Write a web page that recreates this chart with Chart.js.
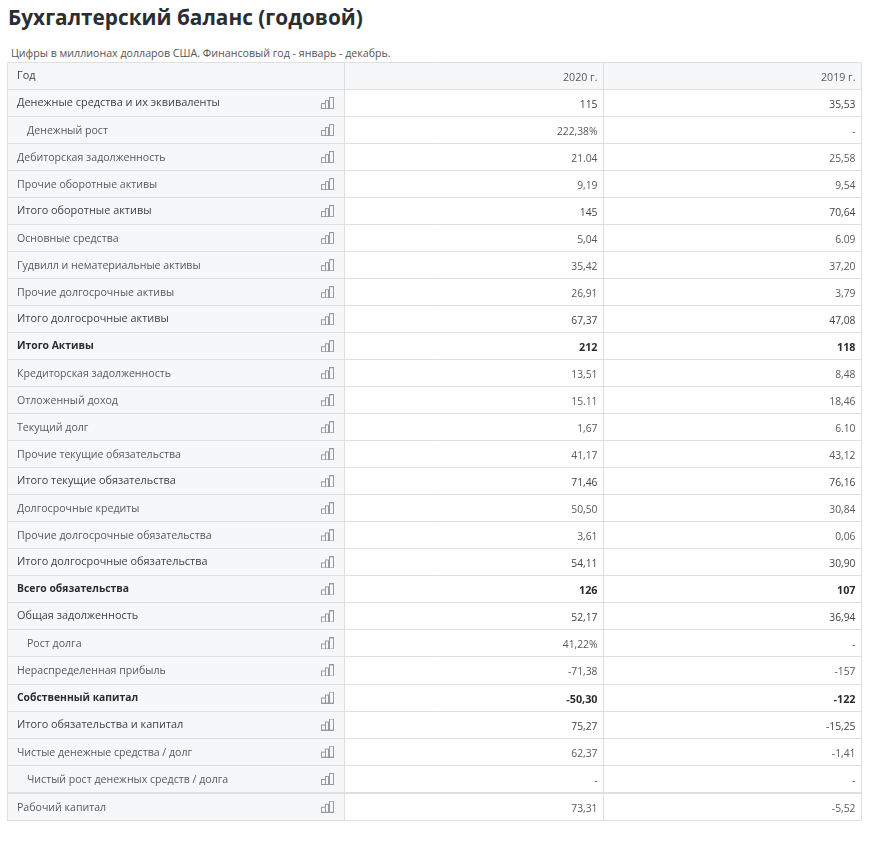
<!DOCTYPE html>
<html lang="ru">
  <head>
    <meta charset="UTF-8">
    <title>Бухгалтерский баланс (годовой)</title>
    <script src="https://cdn.jsdelivr.net/npm/chart.js@4/dist/chart.umd.min.js"></script>
    <style>
      html, body { margin: 0; padding: 0; background: #fff; overflow: hidden; font-family: "Open Sans", sans-serif; }
      #title { position: absolute; left: 8px; top: 3px; margin: 0; font-size: 20.8px; line-height: 28px; font-weight: 700; color: #2a2e33; white-space: nowrap; }
      #note { position: absolute; left: 11px; top: 45px; margin: 0; font-size: 10.65px; line-height: 16px; color: #555; white-space: nowrap; }
      #wrap { position: absolute; left: 0; top: 0; width: 882px; height: 844px; }
    </style>
  </head>
  <body>
    <h1 id="title">Бухгалтерский баланс (годовой)</h1>
    <p id="note">Цифры в миллионах долларов США. Финансовый год - январь - декабрь.</p>
    <div id="wrap"><canvas id="balance_chart" width="882" height="844"></canvas></div>
    <script>
      const headers = ["Год", "2020 г.", "2019 г."];
      const rowNames = [
        "Денежные средства и их эквиваленты", "Денежный рост", "Дебиторская задолженность",
        "Прочие оборотные активы", "Итого оборотные активы", "Основные средства",
        "Гудвилл и нематериальные активы", "Прочие долгосрочные активы", "Итого долгосрочные активы",
        "Итого Активы", "Кредиторская задолженность", "Отложенный доход", "Текущий долг",
        "Прочие текущие обязательства", "Итого текущие обязательства", "Долгосрочные кредиты",
        "Прочие долгосрочные обязательства", "Итого долгосрочные обязательства", "Всего обязательства",
        "Общая задолженность", "Рост долга", "Нераспределенная прибыль", "Собственный капитал",
        "Итого обязательства и капитал", "Чистые денежные средства / долг",
        "Чистый рост денежных средств / долга", "Рабочий капитал"
      ];
      const values2020 = [
        "115", "222,38%", "21.04", "9,19", "145", "5,04", "35,42", "26,91", "67,37", "212",
        "13,51", "15.11", "1,67", "41,17", "71,46", "50,50", "3,61", "54,11", "126", "52,17",
        "41,22%", "-71,38", "-50,30", "75,27", "62,37", "-", "73,31"
      ];
      const values2019 = [
        "35,53", "-", "25,58", "9,54", "70,64", "6.09", "37,20", "3,79", "47,08", "118",
        "8,48", "18,46", "6.10", "43,12", "76,16", "30,84", "0,06", "30,90", "107", "36,94",
        "-", "-157", "-122", "-15,25", "-1,41", "-", "-5,52"
      ];
      const boldRows = ["Итого Активы", "Всего обязательства", "Собственный капитал"];
      const strongRows = [
        "Денежные средства и их эквиваленты", "Итого оборотные активы", "Итого долгосрочные активы",
        "Итого текущие обязательства", "Итого долгосрочные обязательства", "Общая задолженность",
        "Итого обязательства и капитал"
      ];
      const indentRows = ["Денежный рост", "Рост долга", "Чистый рост денежных средств / долга"];

      // layout of the grid, x in px from the left table edge, y in rows
      // строки чуть больше 27px, последняя отделена двойной линией
      const colEdges = [0, 337, 596, 854];
      const rowCount = rowNames.length + 1;
      const thickEdge = rowCount - 1 + 0.03;
      const tableBottom = 28.051;
      const rowEdges = [];
      for (let i = 0; i < rowCount - 1; i++) rowEdges.push(i);
      rowEdges.push(thickEdge, tableBottom);
      const rowCenter = (r) => (rowEdges[r] + rowEdges[r + 1]) / 2;

      const labelCells = rowEdges.slice(0, -1).map((e, r) => ({ x: [colEdges[0], colEdges[1]], y: rowCenter(r) }));
      const headerCell = { x: [colEdges[1], colEdges[3]], y: rowCenter(0) };
      const iconPoints = rowNames.map((n, i) => ({ x: 320, y: rowCenter(i + 1) }));

      // маленькая иконка-гистограмма
      const icon = document.createElement('canvas');
      icon.width = 13;
      icon.height = 12;
      const ic = icon.getContext('2d');
      ic.strokeStyle = '#989a9c';
      ic.lineWidth = 1;
      ic.strokeRect(0.5, 6.5, 4, 5);
      ic.strokeRect(4.5, 3.5, 3, 8);
      ic.strokeRect(8.5, 0.5, 4, 11);

      const labelFont = (name) => {
        if (boldRows.includes(name)) return '700 10.35px "Open Sans"';
        if (strongRows.includes(name)) return '500 10.9px "Open Sans"';
        return '10.6px "Open Sans"';
      };
      const valueFont = (name) => {
        if (boldRows.includes(name)) return '700 10.8px "Open Sans"';
        return '10.3px "Open Sans"';
      };
      const rowColor = (name) => {
        if (boldRows.includes(name)) return '#2a2d30';
        if (strongRows.includes(name)) return '#3d4247';
        return '#555a5f';
      };
      const labelShift = (name) => (boldRows.includes(name) || strongRows.includes(name) ? 0 : 1);

      const tableText = {
        id: 'tableText',
        afterDatasetsDraw(chart) {
          const { ctx, scales: { x, y } } = chart;
          ctx.save();
          ctx.textBaseline = 'middle';
          const put = (text, px, r, align, shift) => {
            ctx.textAlign = align;
            ctx.fillText(text, px, Math.round(y.getPixelForValue(rowCenter(r))) + shift);
          };
          ctx.font = '500 10.9px "Open Sans"';
          ctx.fillStyle = '#3d4247';
          put(headers[0], x.getPixelForValue(9.5), 0, 'left', 0);
          ctx.font = '10.65px "Open Sans"';
          ctx.fillStyle = '#555a5f';
          put(headers[1], x.getPixelForValue(590), 0, 'right', 2);
          put(headers[2], x.getPixelForValue(848), 0, 'right', 2);
          rowNames.forEach((name, i) => {
            ctx.font = labelFont(name);
            ctx.fillStyle = rowColor(name);
            const indent = indentRows.includes(name) ? 10 : 0;
            put(name, x.getPixelForValue(9.5 + indent), i + 1, 'left', labelShift(name));
            ctx.font = valueFont(name);
            put(values2020[i], x.getPixelForValue(590), i + 1, 'right', 2);
            put(values2019[i], x.getPixelForValue(848), i + 1, 'right', 2);
          });
          ctx.restore();
        }
      };

      new Chart(document.getElementById('balance_chart').getContext('2d'), {
        data: {
          datasets: [
            {
              type: 'scatter',
              data: iconPoints,
              pointStyle: icon,
              showLine: false
            },
            {
              type: 'bar',
              data: labelCells.concat([headerCell]),
              backgroundColor: '#f6f7f9',
              borderWidth: 0,
              barThickness: 28
            }
          ]
        },
        options: {
          indexAxis: 'y',
          responsive: false,
          animation: false,
          events: [],
          layout: { padding: { left: 7.5, right: 20.5, top: 62.5, bottom: 23.5 } },
          plugins: { legend: { display: false }, tooltip: { enabled: false } },
          scales: {
            x: {
              type: 'linear',
              offset: false,
              min: colEdges[0],
              max: colEdges[3],
              afterBuildTicks: (s) => { s.ticks = colEdges.map((v) => ({ value: v })); },
              afterFit: (s) => { s.height = 0; },
              ticks: { display: false, autoSkip: false },
              border: { display: false },
              grid: { color: '#dedfe0', lineWidth: 1, drawTicks: false, offset: false, z: 1 }
            },
            y: {
              type: 'linear',
              reverse: true,
              offset: false,
              min: 0,
              max: tableBottom,
              afterBuildTicks: (s) => { s.ticks = rowEdges.map((v) => ({ value: v })); },
              afterFit: (s) => { s.width = 0; },
              ticks: { display: false, autoSkip: false },
              border: { display: false },
              grid: {
                color: '#dedfe0',
                lineWidth: (c) => (c.tick && c.tick.value === thickEdge ? 2 : 1),
                drawTicks: false,
                offset: false,
                z: 1
              }
            }
          }
        },
        plugins: [tableText]
      });
    </script>
  </body>
</html>
